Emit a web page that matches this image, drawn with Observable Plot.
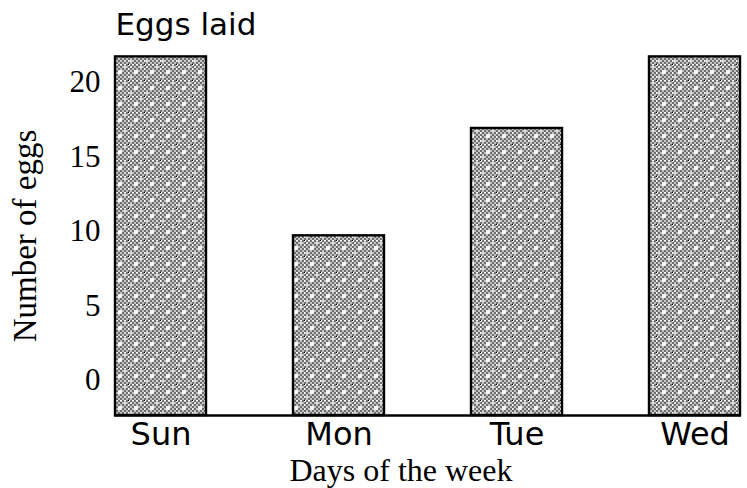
<!DOCTYPE html>
<html>
<head>
<meta charset="utf-8">
<script src="https://cdn.jsdelivr.net/npm/d3@7"></script>
<script src="https://cdn.jsdelivr.net/npm/@observablehq/plot@0.6"></script>
<style>
  html, body { margin: 0; padding: 0; background: #fff; }
  #chart { width: 747px; height: 488px; }
</style>
</head>
<body>
<div id="chart"></div>
<script>
// Data
const days = ["Sun", "Mon", "Tue", "Wed"];
const eggs = [21.7, 9.7, 16.9, 21.7];
const yTicks = [0, 5, 10, 15, 20];
const yMin = -2.35;   // where the bars' baseline sits on the value axis
const yMax = 22.8;
const title = "Eggs laid";
const xTitle = "Days of the week";
const yTitle = "Number of eggs";

const data = days.map((d, i) => ({day: d, eggs: eggs[i]}));

const serif = "'Liberation Serif', 'Times New Roman', serif";
const sans = "'DejaVu Sans', sans-serif";

const chart = Plot.plot({
  width: 747,
  height: 488,
  marginLeft: 114,
  marginRight: 6,
  marginTop: 40,
  marginBottom: 73,
  style: {background: "#fff", color: "#000", fontFamily: serif, fontSize: "30px"},
  x: {domain: days, paddingInner: 0.49, paddingOuter: 0, label: null},
  y: {domain: [yMin, yMax], label: null},
  marks: [
    Plot.barY(data, {x: "day", y1: yMin, y2: "eggs", fill: "url(#eggHatch)", stroke: "#000", strokeWidth: 2.4}),
    Plot.ruleY([yMin], {stroke: "#000", strokeWidth: 2.4}),
    Plot.axisY(yTicks, {tickSize: 0, tickPadding: 14, fontSize: 31, fontFamily: serif, label: null, fill: "#000"}),
    Plot.axisX({tickSize: 0, tickPadding: 7, fontSize: 32, fontFamily: sans, label: null, fill: "#000"}),
    Plot.text([title], {frameAnchor: "top-left", dx: 1, dy: -15, textAnchor: "start", lineAnchor: "middle", fontSize: 31, fontFamily: sans, fill: "#000"}),
    Plot.text([xTitle], {frameAnchor: "bottom", dx: -27, dy: 55, textAnchor: "middle", lineAnchor: "middle", fontSize: 32, fontFamily: serif, fill: "#000"}),
    Plot.text([yTitle], {frameAnchor: "left", dx: -89, dy: 8, rotate: -90, textAnchor: "middle", lineAnchor: "middle", fontSize: 33, fontFamily: serif, fill: "#000"})
  ]
});

// Crosshatch fill pattern
const svg = d3.select(chart);
const defs = svg.insert("defs", ":first-child");
const pat = defs.append("pattern")
  .attr("id", "eggHatch")
  .attr("patternUnits", "userSpaceOnUse")
  .attr("width", 16).attr("height", 16);
pat.append("rect").attr("width", 16).attr("height", 16).attr("fill", "#6f6f6f");
for (let i = 0; i < 8; i++) {
  for (let j = 0; j < 8; j++) {
    if ((i + j) % 2 === 0) {
      pat.append("rect").attr("x", i * 2).attr("y", j * 2).attr("width", 2).attr("height", 2).attr("fill", "#c4c4c4");
    }
  }
}
// light centres
pat.append("rect").attr("x", 6).attr("y", 6).attr("width", 4).attr("height", 4).attr("fill", "#f4f4f4");
pat.append("rect").attr("x", 2).attr("y", 2).attr("width", 2).attr("height", 2).attr("fill", "#e0e0e0");
pat.append("rect").attr("x", 12).attr("y", 12).attr("width", 2).attr("height", 2).attr("fill", "#e0e0e0");
pat.append("rect").attr("x", 12).attr("y", 2).attr("width", 2).attr("height", 2).attr("fill", "#e0e0e0");
pat.append("rect").attr("x", 2).attr("y", 12).attr("width", 2).attr("height", 2).attr("fill", "#e0e0e0");
// dotted white grid lines
pat.append("line").attr("x1", 0).attr("y1", 0.5).attr("x2", 16).attr("y2", 0.5)
  .attr("stroke", "#fff").attr("stroke-width", 1).attr("stroke-dasharray", "2 2");
pat.append("line").attr("x1", 0.5).attr("y1", 0).attr("x2", 0.5).attr("y2", 16)
  .attr("stroke", "#fff").attr("stroke-width", 1).attr("stroke-dasharray", "2 2");
pat.append("rect").attr("x", 0).attr("y", 0).attr("width", 1).attr("height", 1).attr("fill", "#000");

document.getElementById("chart").appendChild(chart);
</script>
</body>
</html>
